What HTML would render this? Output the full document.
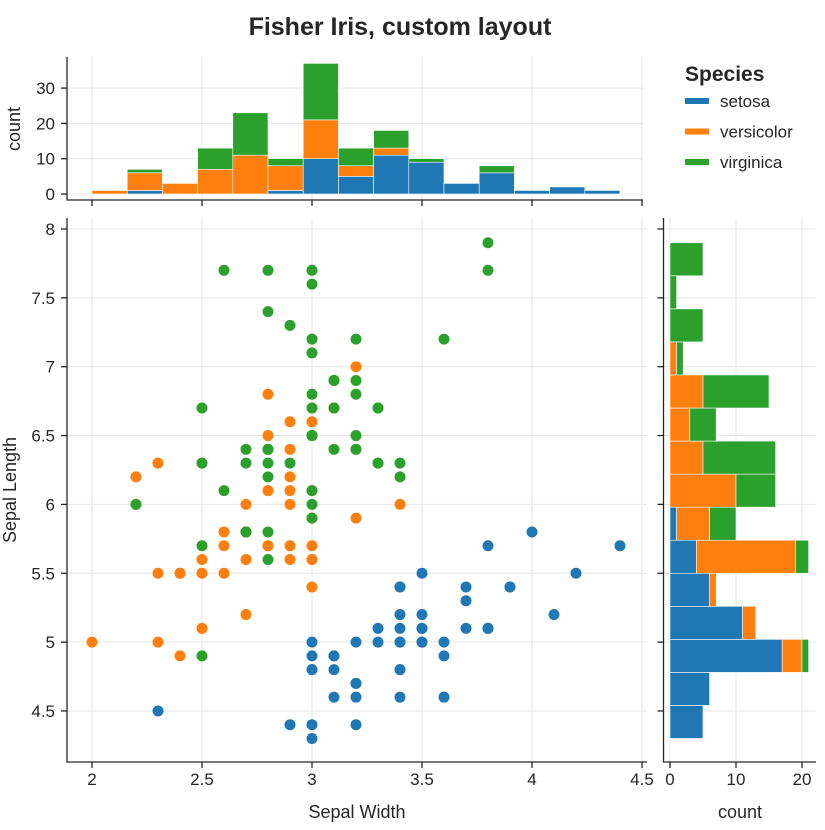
<!DOCTYPE html>
<html><head><meta charset="utf-8"><style>
html,body{margin:0;padding:0;background:#fff;}
svg text{font-family:"Liberation Sans",Arial,sans-serif;fill:#262626;}
</style></head><body>
<svg id="c" width="825" height="825" xmlns="http://www.w3.org/2000/svg">
<text x="400" y="35" text-anchor="middle" font-size="25" font-weight="bold">Fisher Iris, custom layout</text>
<g id="legend">
<text x="685" y="81" font-size="21" font-weight="bold">Species</text>
</g>
</svg>
<script>
const species = ["setosa","versicolor","virginica"];
const colors = ["#1f77b4","#ff7f0e","#2ca02c"];
const setosaLength = [5.1,4.9,4.7,4.6,5.0,5.4,4.6,5.0,4.4,4.9,5.4,4.8,4.8,4.3,5.8,5.7,5.4,5.1,5.7,5.1,5.4,5.1,4.6,5.1,4.8,5.0,5.0,5.2,5.2,4.7,4.8,5.4,5.2,5.5,4.9,5.0,5.5,4.9,4.4,5.1,5.0,4.5,4.4,5.0,5.1,4.8,5.1,4.6,5.3,5.0];
const setosaWidth = [3.5,3.0,3.2,3.1,3.6,3.9,3.4,3.4,2.9,3.1,3.7,3.4,3.0,3.0,4.0,4.4,3.9,3.5,3.8,3.8,3.4,3.7,3.6,3.3,3.4,3.0,3.4,3.5,3.4,3.2,3.1,3.4,4.1,4.2,3.1,3.2,3.5,3.6,3.0,3.4,3.5,2.3,3.2,3.5,3.8,3.0,3.8,3.2,3.7,3.3];
const versicolorLength = [7.0,6.4,6.9,5.5,6.5,5.7,6.3,4.9,6.6,5.2,5.0,5.9,6.0,6.1,5.6,6.7,5.6,5.8,6.2,5.6,5.9,6.1,6.3,6.1,6.4,6.6,6.8,6.7,6.0,5.7,5.5,5.5,5.8,6.0,5.4,6.0,6.7,6.3,5.6,5.5,5.5,6.1,5.8,5.0,5.6,5.7,5.7,6.2,5.1,5.7];
const versicolorWidth = [3.2,3.2,3.1,2.3,2.8,2.8,3.3,2.4,2.9,2.7,2.0,3.0,2.2,2.9,2.9,3.1,3.0,2.7,2.2,2.5,3.2,2.8,2.5,2.8,2.9,3.0,2.8,3.0,2.9,2.6,2.4,2.4,2.7,2.7,3.0,3.4,3.1,2.3,3.0,2.5,2.6,3.0,2.6,2.3,2.7,3.0,2.9,2.9,2.5,2.8];
const virginicaLength = [6.3,5.8,7.1,6.3,6.5,7.6,4.9,7.3,6.7,7.2,6.5,6.4,6.8,5.7,5.8,6.4,6.5,7.7,7.7,6.0,6.9,5.6,7.7,6.3,6.7,7.2,6.2,6.1,6.4,7.2,7.4,7.9,6.4,6.3,6.1,7.7,6.3,6.4,6.0,6.9,6.7,6.9,5.8,6.8,6.7,6.7,6.3,6.5,6.2,5.9];
const virginicaWidth = [3.3,2.7,3.0,2.9,3.0,3.0,2.5,2.9,2.5,3.6,3.2,2.7,3.0,2.5,2.8,3.2,3.0,3.8,2.6,2.2,3.2,2.8,2.8,2.7,3.3,3.2,2.8,3.0,2.8,3.0,2.8,3.8,2.8,2.8,2.6,3.0,3.4,3.1,3.0,3.1,3.1,3.1,2.7,3.2,3.3,3.0,2.5,3.0,3.4,3.0];
const xTicks = [2,2.5,3,3.5,4,4.5];
const xTickLabels = ["2","2.5","3","3.5","4","4.5"];
const yTicks = [4.5,5,5.5,6,6.5,7,7.5,8];
const yTickLabels = ["4.5","5","5.5","6","6.5","7","7.5","8"];
const countTicksTop = [0,10,20,30];
const countTicksRight = [0,10,20];
const nBins = 15;

const svg = document.getElementById('c');
const NS = "http://www.w3.org/2000/svg";
function mk(tag, attrs, parent){const e=document.createElementNS(NS,tag);for(const k in attrs)e.setAttribute(k,attrs[k]);(parent||svg).appendChild(e);return e;}
const sx = v => 92 + (v-2)*220;
const sy = v => 229 + (8-v)*137.7;
const cy = c => 194 - c*3.53;
const cx = c => 670 + c*6.6;
const L = {x0:67,x1:647,y0:218,y1:762};
const lengths=[setosaLength,versicolorLength,virginicaLength];
const widths=[setosaWidth,versicolorWidth,virginicaWidth];

function hist(arrs, rightClosed){
  const all=[].concat(...arrs);const mn=Math.min(...all),mx=Math.max(...all);const w=(mx-mn)/nBins;
  const counts=arrs.map(a=>{const c=new Array(nBins).fill(0);a.forEach(v=>{
    let i = rightClosed ? Math.ceil((v-mn)/w-1e-6)-1 : Math.floor((v-mn)/w+1e-6);
    if(i<0)i=0;if(i>=nBins)i=nBins-1;c[i]++;});return c;});
  return {mn,w,counts};
}
const grid = mk('g',{},svg);


xTicks.forEach(t=>{mk('line',{x1:sx(t),x2:sx(t),y1:L.y0,y2:L.y1,stroke:'#e6e6e6','stroke-width':1},grid);mk('line',{x1:sx(t),x2:sx(t),y1:57,y2:200,stroke:'#e6e6e6','stroke-width':1},grid);});
yTicks.forEach(t=>{mk('line',{x1:L.x0,x2:L.x1,y1:sy(t),y2:sy(t),stroke:'#e6e6e6','stroke-width':1},grid);mk('line',{x1:663,x2:816,y1:sy(t),y2:sy(t),stroke:'#e6e6e6','stroke-width':1},grid);});
countTicksTop.forEach(t=>mk('line',{x1:67,x2:643,y1:cy(t),y2:cy(t),stroke:'#e6e6e6'},grid));
countTicksRight.forEach(t=>mk('line',{x1:cx(t),x2:cx(t),y1:218,y2:762,stroke:'#e6e6e6'},grid));

const hw=hist(widths,true);
const topG=mk('g',{});


for(let i=0;i<nBins;i++){let base=0;for(let s=0;s<3;s++){const c=hw.counts[s][i];if(c>0){const x0=sx(hw.mn+i*hw.w),x1=sx(hw.mn+(i+1)*hw.w);
  const r=mk('rect',{x:x0,y:cy(base+c),width:x1-x0,height:cy(base)-cy(base+c),fill:colors[s],stroke:'#fff','stroke-width':0.6},topG);
  
  }
  base+=c;}}
const hl=hist(lengths,false);
const rG=mk('g',{});


for(let i=0;i<nBins;i++){let base=0;for(let s=0;s<3;s++){const c=hl.counts[s][i];if(c>0){const y0=sy(hl.mn+(i+1)*hl.w),y1=sy(hl.mn+i*hl.w);
  const r=mk('rect',{x:cx(base),y:y0,width:cx(base+c)-cx(base),height:y1-y0,fill:colors[s],stroke:'#fff','stroke-width':0.6},rG);
  
  }
  base+=c;}}
const sG=mk('g',{});


for(let s=0;s<3;s++){for(let i=0;i<lengths[s].length;i++){
  const p=mk('circle',{cx:sx(widths[s][i]),cy:sy(lengths[s][i]),r:5.5,fill:colors[s]},sG);
  
  }}

const ax=mk('g',{stroke:'#262626','stroke-width':1.3,fill:'none'});


mk('path',{d:`M67,57V200H643`},ax);
mk('path',{d:`M67,218V762H647`},ax);
mk('path',{d:`M663.5,218V762H816`},ax);
xTicks.forEach(t=>{mk('line',{x1:sx(t),x2:sx(t),y1:762,y2:768},ax);mk('line',{x1:sx(t),x2:sx(t),y1:200,y2:206},ax);});
yTicks.forEach(t=>{mk('line',{x1:61,x2:67,y1:sy(t),y2:sy(t)},ax);mk('line',{x1:657.5,x2:663.5,y1:sy(t),y2:sy(t)},ax);});
countTicksTop.forEach(t=>mk('line',{x1:61,x2:67,y1:cy(t),y2:cy(t)},ax));
countTicksRight.forEach(t=>mk('line',{x1:cx(t),x2:cx(t),y1:762,y2:768},ax));
const lab=mk('g',{'font-size':'17'});


xTicks.forEach((t,i)=>mk('text',{x:sx(t),y:785,'text-anchor':'middle'},lab).textContent=xTickLabels[i]);
yTicks.forEach((t,i)=>mk('text',{x:55,y:sy(t)+6,'text-anchor':'end'},lab).textContent=yTickLabels[i]);
countTicksTop.forEach(t=>mk('text',{x:55,y:cy(t)+6,'text-anchor':'end'},lab).textContent=String(t));
countTicksRight.forEach(t=>mk('text',{x:cx(t),y:785,'text-anchor':'middle'},lab).textContent=String(t));
function title(txt,x,y,rot,name){const e=mk('text',{x:x,y:y,'text-anchor':'middle','font-size':'18',transform:rot?`rotate(-90 ${x} ${y})`:''});e.textContent=txt;
  
  }
title('Sepal Width',357,818,false,'x-axis-title');
title('count',740,818,false,'right-count-title');
title('Sepal Length',16,490,true,'y-axis-title');
title('count',20,129,true,'top-count-title');
const lg=document.getElementById('legend');
species.forEach((s,i)=>{
  const yy=101+i*30.5;
  const sw=mk('rect',{x:685,y:yy-3,width:24,height:6,fill:colors[i]},lg);
  
  
  const t=mk('text',{x:720,y:yy+6,'font-size':'17'},lg);t.textContent=s;
  
  
});
</script>
</body></html>
